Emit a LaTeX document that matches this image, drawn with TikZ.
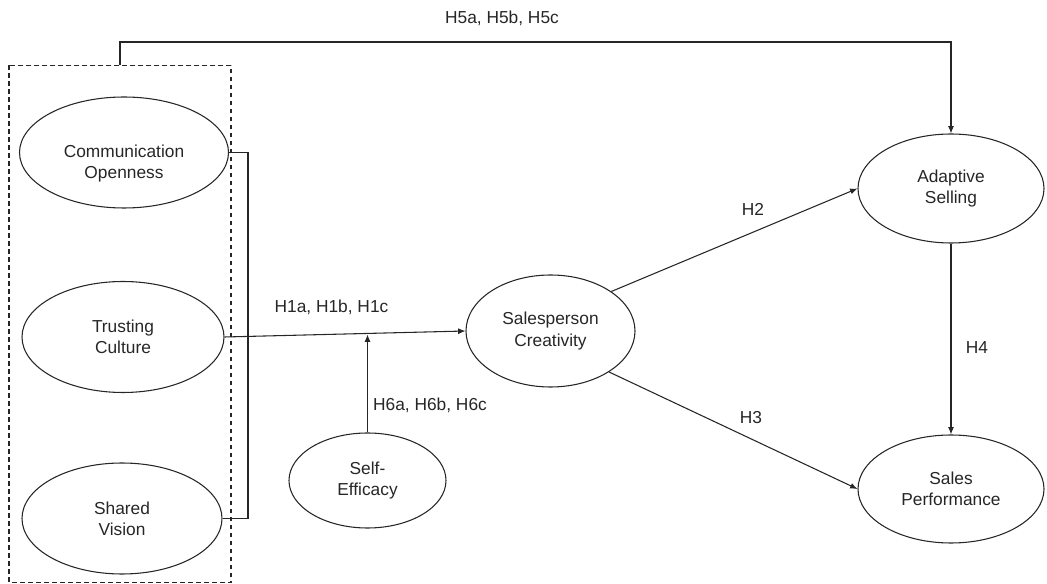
\documentclass[tikz,border=0pt]{standalone}
\usepackage{fontspec}
\setmainfont{Liberation Sans}
\usetikzlibrary{arrows.meta,shapes.geometric}
\tikzset{
  oval/.style={ellipse, draw=black!85, line width=0.8pt, inner sep=0pt, align=center,
    font=\fontsize{13pt}{16pt}\selectfont, text=black!85},
  lbl/.style={inner sep=0pt, font=\fontsize{13pt}{16pt}\selectfont, text=black!85},
  conn/.style={draw=black!85, line width=0.8pt},
  arr/.style={conn, -{Latex[length=5.5pt,width=4.5pt]}},
  grp/.style={draw=black!85, line width=0.8pt, dash pattern=on 3.5pt off 2.5pt}
}
\begin{document}
\begin{tikzpicture}[x=0.75pt,y=-0.75pt]
\useasboundingbox (0,0) rectangle (1047,584);
% group box
\draw[grp] (9,65.5) rectangle (231,582.5);
\coordinate (gtop) at (120,65.5);
% nodes
\node[oval, minimum width=156.75pt, minimum height=83.25pt] (co) at (124,152.5) {};
\node[lbl, align=center] (cot) at (124,163.5) {Communication\\Openness};
\node[oval, minimum width=151.5pt, minimum height=83.25pt] (tc) at (123,337) {Trusting\\Culture};
\node[oval, minimum width=150pt, minimum height=83.25pt] (sv) at (122,518.5) {Shared\\Vision};
\node[oval, minimum width=117.75pt, minimum height=71.25pt] (se) at (367.5,480.5) {Self-\\Efficacy};
\node[oval, minimum width=126.75pt, minimum height=84pt] (sc) at (550.5,331) {Salesperson\\Creativity};
\node[oval, minimum width=139.5pt, minimum height=81.75pt] (as) at (951,188.5) {Adaptive\\Selling};
\node[oval, minimum width=139.5pt, minimum height=81pt] (sp) at (951,489) {Sales\\Performance};
% helper coordinates
\coordinate (brk) at (248,335);
\coordinate (mod) at (367.5,334.5);
\coordinate (topl) at (120,42);
% connectors
\draw[conn] (co.east) -| (brk) |- (sv.east);
\draw[arr] (tc.east) -- (sc.west);
\draw[arr] (se.north) -- (mod);
\draw[arr] (gtop) -- (topl) -| (as.north);
\draw[arr] (sc.33) -- (as.west);
\draw[arr] (sc.-35) -- (sp.west);
\draw[arr] (as.south) -- (sp.north);
% labels
\node[lbl] (l5) at (502,18) {H5a, H5b, H5c};
\node[lbl] (l1) at (331.5,307) {H1a, H1b, H1c};
\node[lbl] (l6) at (430,405) {H6a, H6b, H6c};
\node[lbl] (l2) at (753,209) {H2};
\node[lbl] (l3) at (751,418) {H3};
\node[lbl] (l4) at (977,348) {H4};
\end{tikzpicture}
\end{document}
